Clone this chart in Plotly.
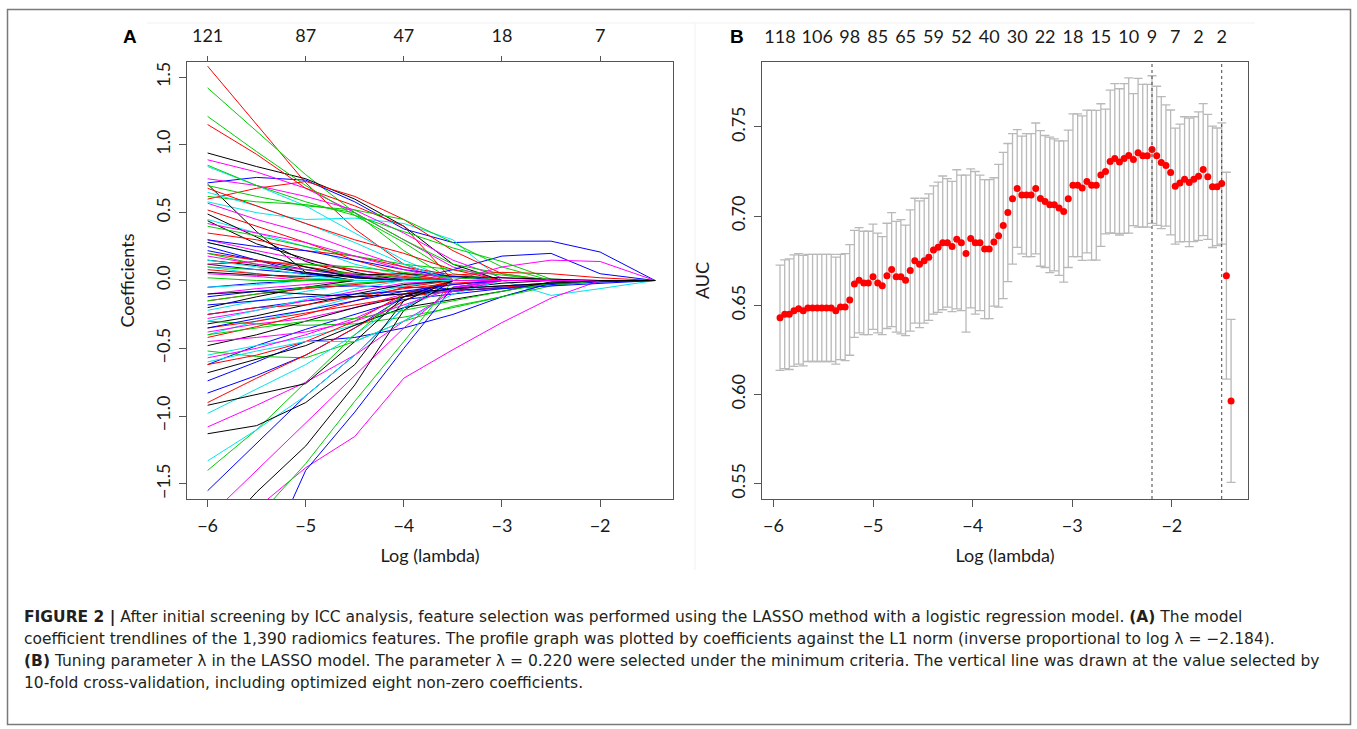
import plotly.graph_objects as go

W, H = 1357, 729

# ---------------- Panel A data: coefficient paths at log(lambda) knots ----------------
knots_loglam = [-6.0, -5.5, -5.0, -4.5, -4.0, -3.5, -3.0, -2.5, -2.0, -1.44]

top_ticks_A = [-6, -5, -4, -3, -2]
top_labels_A = ["121", "87", "47", "18", "7"]

black_paths = [
    [0.94, 0.84, 0.75, 0.60, 0.40, 0.12, 0, 0, 0, 0],
    [0.71, 0.36, 0.06, 0, 0, 0, 0, 0, 0, 0],
    [0.49, 0.32, 0.14, 0.03, 0, 0, 0, 0, 0, 0],
    [0.44, 0.27, 0.16, 0.06, 0, 0, 0, 0, 0, 0],
    [0.15, 0.11, 0.06, 0.02, 0, 0, 0, 0, 0, 0],
    [0.06, 0.04, 0.03, 0.04, 0.05, 0.03, 0.02, 0.01, 0, 0],
    [-0.20, -0.12, -0.05, 0, 0, 0, 0, 0, 0, 0],
    [-0.32, -0.26, -0.18, -0.10, -0.03, 0, 0, 0, 0, 0],
    [-0.48, -0.40, -0.30, -0.20, -0.12, -0.06, -0.02, 0, 0, 0],
    [-0.68, -0.58, -0.48, -0.33, -0.20, -0.14, -0.08, -0.01, 0, 0],
    [-0.92, -0.84, -0.76, -0.45, -0.12, 0, 0, 0, 0, 0],
    [-1.13, -1.07, -0.90, -0.62, -0.15, 0, 0, 0, 0, 0],
    [-1.95, -1.56, -1.22, -0.77, -0.22, 0, 0, 0, 0, 0],
    [0.28, 0.20, 0.10, 0.02, 0, 0, 0, 0, 0, 0],
    [-0.10, -0.08, -0.10, -0.12, -0.10, -0.06, -0.04, -0.02, 0, 0],
]
red_paths = [
    [1.58, 1.15, 0.72, 0.38, 0.12, 0, 0, 0, 0, 0],
    [1.15, 0.93, 0.68, 0.55, 0.40, 0, 0, 0, 0, 0],
    [0.60, 0.68, 0.73, 0.62, 0.45, 0.22, 0.05, 0, 0, 0],
    [0.52, 0.40, 0.28, 0.15, 0.05, 0, 0, 0, 0, 0],
    [0.35, 0.30, 0.22, 0.18, 0.10, 0.04, 0.06, 0.05, 0.02, 0],
    [0.20, 0.15, 0.10, 0.05, 0.02, 0, 0, 0, 0, 0],
    [0.08, 0.05, 0.01, 0, 0, 0, 0, 0, 0, 0],
    [-0.15, -0.10, -0.06, -0.03, 0, 0, 0, 0, 0, 0],
    [-0.35, -0.30, -0.24, -0.18, -0.12, -0.08, -0.05, -0.02, 0, 0],
    [-0.42, -0.34, -0.25, -0.15, -0.05, 0, 0, 0, 0, 0],
    [-0.90, -0.72, -0.55, -0.35, -0.15, 0, 0, 0, 0, 0],
    [-0.62, -0.55, -0.45, -0.30, -0.10, 0, 0, 0, 0, 0],
    [0.12, 0.14, 0.12, 0.08, 0.03, 0, 0, 0, 0, 0],
    [-0.25, -0.20, -0.18, -0.12, -0.06, -0.02, 0, 0, 0, 0],
    [0.68, 0.55, 0.42, 0.30, 0.20, 0.08, 0, 0, 0, 0],
]
green_paths = [
    [1.42, 1.10, 0.78, 0.50, 0.22, 0, 0, 0, 0, 0],
    [1.21, 0.95, 0.70, 0.48, 0.28, 0.05, 0, 0, 0, 0],
    [0.85, 0.70, 0.58, 0.48, 0.36, 0.24, 0.14, 0.01, 0, 0],
    [0.62, 0.58, 0.56, 0.50, 0.30, 0.12, 0.05, 0, 0, 0],
    [0.40, 0.33, 0.25, 0.18, 0.12, 0.08, 0.04, 0, 0, 0],
    [0.20, 0.12, 0.08, 0.05, 0.02, 0, 0, 0, 0, 0],
    [0.02, 0, 0, 0, 0, 0, 0, 0, 0, 0],
    [-0.15, -0.10, -0.05, -0.02, 0, 0, 0, 0, 0, 0],
    [-0.30, -0.32, -0.33, -0.32, -0.27, -0.20, -0.12, -0.02, 0, 0],
    [-0.52, -0.56, -0.57, -0.45, -0.30, -0.19, -0.12, -0.04, 0, 0],
    [-1.40, -1.10, -0.75, -0.40, -0.10, 0, 0, 0, 0, 0],
    [-2.30, -1.75, -1.35, -0.89, -0.45, 0, 0, 0, 0, 0],
    [0.70, 0.62, 0.55, 0.52, 0.45, 0.28, 0.10, 0, 0, 0],
    [0.10, 0.08, 0.12, 0.10, 0.06, 0.02, 0, 0, 0, 0],
    [-0.40, -0.35, -0.30, -0.28, -0.22, -0.15, -0.08, -0.02, 0, 0],
]
blue_paths = [
    [0.72, 0.76, 0.74, 0.58, 0.38, 0.28, 0.29, 0.29, 0.21, 0],
    [0.25, 0.15, 0.05, 0, 0, 0.08, 0.18, 0.20, 0.05, 0],
    [0.22, 0.15, 0.08, 0.03, 0, 0, 0, 0, 0, 0],
    [0.12, 0.08, 0.05, 0.03, 0.01, 0, 0, 0, 0, 0],
    [-0.05, -0.02, 0, 0, 0, 0, 0, 0, 0, 0],
    [-0.12, -0.08, -0.05, -0.04, -0.05, -0.06, -0.04, -0.02, -0.01, 0],
    [-0.25, -0.20, -0.15, -0.12, -0.10, -0.08, -0.05, -0.03, -0.01, 0],
    [-0.62, -0.48, -0.36, -0.25, -0.14, -0.10, -0.06, -0.02, 0, 0],
    [-0.74, -0.60, -0.45, -0.42, -0.35, -0.25, -0.12, -0.02, 0, 0],
    [-0.83, -0.70, -0.55, -0.35, -0.12, 0, 0, 0, 0, 0],
    [-1.55, -1.20, -0.85, -0.55, -0.20, 0, 0, 0, 0, 0],
    [-2.90, -2.20, -1.40, -0.97, -0.50, -0.05, 0, 0, 0, 0],
    [0.30, 0.25, 0.22, 0.15, 0.08, 0.03, 0, 0, 0, 0],
    [-0.18, -0.15, -0.12, -0.10, -0.08, -0.07, -0.06, -0.04, -0.02, 0],
    [-0.35, -0.28, -0.22, -0.15, -0.08, -0.03, 0, 0, 0, 0],
]
cyan_paths = [
    [0.58, 0.50, 0.45, 0.46, 0.42, 0.30, 0.0, -0.11, -0.06, 0],
    [0.84, 0.70, 0.55, 0.35, 0.15, 0, 0, 0, 0, 0],
    [0.45, 0.35, 0.25, 0.12, 0.04, 0, 0, 0, 0, 0],
    [0.28, 0.20, 0.10, 0.04, 0, 0, 0, 0, 0, 0],
    [0.10, 0.05, 0.02, 0, 0, 0, 0, 0, 0, 0],
    [-0.05, -0.03, 0, 0, 0, 0, 0, 0, 0, 0],
    [-0.22, -0.15, -0.08, -0.02, 0, 0, 0, 0, 0, 0],
    [-0.40, -0.30, -0.22, -0.12, -0.04, 0, 0, 0, 0, 0],
    [-0.55, -0.48, -0.42, -0.33, -0.20, -0.05, 0, 0, 0, 0],
    [-0.98, -0.80, -0.62, -0.40, -0.15, 0, 0, 0, 0, 0],
    [-1.33, -1.10, -0.85, -0.55, -0.20, 0, 0, 0, 0, 0],
    [-0.60, -0.52, -0.45, -0.45, -0.30, -0.10, 0, 0, 0, 0],
    [0.65, 0.55, 0.42, 0.28, 0.12, 0, 0, 0, 0, 0],
    [0.15, 0.10, 0.04, 0, 0, 0, 0, 0, 0, 0],
    [-0.30, -0.22, -0.14, -0.06, 0, 0, 0, 0, 0, 0],
]
magenta_paths = [
    [0.89, 0.80, 0.68, 0.50, 0.30, 0.10, 0, 0, 0, 0],
    [0.75, 0.70, 0.62, 0.52, 0.35, 0.15, 0.02, 0, 0, 0],
    [0.57, 0.45, 0.35, 0.22, 0.10, 0, 0, 0, 0, 0],
    [0.30, 0.22, 0.15, 0.08, 0.02, 0, 0, 0, 0, 0],
    [0.05, 0.03, 0, 0, 0, 0, 0.10, 0.15, 0.14, 0],
    [-0.10, -0.06, -0.03, 0, 0, 0, 0, 0, 0, 0],
    [-0.28, -0.22, -0.15, -0.08, -0.02, 0, 0, 0, 0, 0],
    [-0.38, -0.32, -0.28, -0.20, -0.10, -0.03, 0, 0, 0, 0],
    [-0.57, -0.50, -0.40, -0.28, -0.12, 0, 0, 0, 0, 0],
    [-1.08, -0.92, -0.75, -0.55, -0.30, -0.08, 0, 0, 0, 0],
    [-2.00, -1.68, -1.38, -1.15, -0.72, -0.51, -0.31, -0.13, 0, 0],
    [-1.75, -1.40, -1.05, -0.70, -0.35, -0.05, 0, 0, 0, 0],
    [0.18, 0.12, 0.08, 0.04, 0, 0, 0, 0, 0, 0],
    [-0.45, -0.42, -0.38, -0.30, -0.18, -0.06, 0, 0, 0, 0],
    [0.42, 0.35, 0.28, 0.18, 0.08, 0, 0, 0, 0, 0],
]

# ---------------- Panel B data: cross-validated AUC ----------------
cv_loglam = [
    -5.935, -5.888, -5.842, -5.795, -5.748, -5.702, -5.655, -5.608, -5.561, -5.515,
    -5.468, -5.421, -5.375, -5.328, -5.281, -5.235, -5.188, -5.141, -5.094, -5.048,
    -5.001, -4.954, -4.908, -4.861, -4.814, -4.768, -4.721, -4.674, -4.627, -4.581,
    -4.534, -4.487, -4.441, -4.394, -4.347, -4.301, -4.254, -4.207, -4.160, -4.114,
    -4.067, -4.020, -3.974, -3.927, -3.880, -3.834, -3.787, -3.740, -3.693, -3.647,
    -3.600, -3.553, -3.507, -3.460, -3.413, -3.367, -3.320, -3.273, -3.226, -3.180,
    -3.133, -3.086, -3.040, -2.993, -2.946, -2.900, -2.853, -2.806, -2.759, -2.713,
    -2.666, -2.619, -2.573, -2.526, -2.479, -2.433, -2.386, -2.339, -2.292, -2.246,
    -2.199, -2.152, -2.106, -2.059, -2.012, -1.966, -1.919, -1.872, -1.825, -1.779,
    -1.732, -1.685, -1.639, -1.592, -1.545, -1.499, -1.452, -1.405,
]
auc_mean = [
    0.643, 0.645, 0.645, 0.647, 0.648, 0.647, 0.6485, 0.6485, 0.6485, 0.6485,
    0.6485, 0.6485, 0.647, 0.649, 0.649, 0.653, 0.662, 0.664, 0.6625, 0.6625,
    0.666, 0.6625, 0.661, 0.6665, 0.670, 0.666, 0.666, 0.664, 0.6695, 0.675,
    0.673, 0.675, 0.677, 0.681, 0.6825, 0.685, 0.685, 0.683, 0.687, 0.685,
    0.679, 0.6875, 0.685, 0.685, 0.6815, 0.6815, 0.6855, 0.689, 0.6947, 0.702,
    0.7097, 0.7155, 0.7118, 0.7118, 0.7118, 0.7155, 0.7099, 0.7082, 0.7063, 0.7063,
    0.7045, 0.7026, 0.7097, 0.7173, 0.7173, 0.7157, 0.7194, 0.7173, 0.7173, 0.723,
    0.725, 0.7306, 0.7323, 0.7304, 0.7323, 0.734, 0.7317, 0.7355, 0.7338, 0.7338,
    0.7373, 0.7338, 0.730, 0.7284, 0.7245, 0.7168, 0.7186, 0.7207, 0.7189, 0.7207,
    0.7224, 0.7261, 0.722, 0.7164, 0.7164, 0.7183, 0.6666, 0.5964,
]
auc_sd = [
    0.0295, 0.0305, 0.031, 0.0313, 0.031, 0.031, 0.030, 0.030, 0.030, 0.030,
    0.030, 0.030, 0.030, 0.0295, 0.030, 0.031, 0.030, 0.0295, 0.029, 0.029,
    0.0295, 0.028, 0.0275, 0.0295, 0.032, 0.031, 0.032, 0.031, 0.034, 0.035,
    0.0355, 0.035, 0.0355, 0.036, 0.0365, 0.0375, 0.036, 0.0365, 0.039, 0.038,
    0.044, 0.039, 0.040, 0.038, 0.039, 0.039, 0.036, 0.040, 0.041, 0.0387,
    0.0366, 0.033, 0.033, 0.0345, 0.0345, 0.0367, 0.038, 0.037, 0.038, 0.037,
    0.0377, 0.0396, 0.0385, 0.040, 0.040, 0.0405, 0.040, 0.042, 0.042, 0.040,
    0.035, 0.040, 0.042, 0.041, 0.042, 0.0435, 0.037, 0.0417, 0.040, 0.040,
    0.0414, 0.039, 0.037, 0.034, 0.035, 0.0325, 0.033, 0.035, 0.036, 0.035,
    0.036, 0.037, 0.035, 0.034, 0.033, 0.034, 0.058, 0.0457,
]
nz_index = [0, 8, 15, 21, 27, 33, 39, 45, 51, 57, 63, 69, 75, 80, 85, 90, 95]
nz_labels = ["118", "106", "98", "85", "65", "59", "52", "40", "30", "22",
             "18", "15", "10", "9", "7", "2", "2"]
idx_min, idx_1se = 80, 95

caption_lines = [
    "<b>FIGURE 2 |</b> After initial screening by ICC analysis, feature selection was performed using the LASSO method with a logistic regression model. <b>(A)</b> The model",
    "coefficient trendlines of the 1,390 radiomics features. The profile graph was plotted by coefficients against the L1 norm (inverse proportional to log λ = −2.184).",
    "<b>(B)</b> Tuning parameter λ in the LASSO model. The parameter λ = 0.220 were selected under the minimum criteria. The vertical line was drawn at the value selected by",
    "10-fold cross-validation, including optimized eight non-zero coefficients.",
]

# ---------------- figure ----------------
def px_x(p):
    return p / W

def px_y(p):
    return 1 - p / H

fig = go.Figure()

palette = [("#FF0000", red_paths), ("#00CD00", green_paths), ("#0000FF", blue_paths),
           ("#00E5EE", cyan_paths), ("#FF00FF", magenta_paths), ("#000000", black_paths)]
n_each = len(black_paths)
for i in range(n_each):
    for col, paths in palette:
        fig.add_trace(go.Scatter(
            x=knots_loglam, y=paths[i], mode="lines",
            line=dict(color=col, width=1), xaxis="x", yaxis="y",
            showlegend=False, hoverinfo="skip"))

# dummy traces so the top axes render
fig.add_trace(go.Scatter(x=[top_ticks_A[0]], y=[None], xaxis="x3", yaxis="y",
                         showlegend=False, hoverinfo="skip"))
fig.add_trace(go.Scatter(x=[cv_loglam[0]], y=[None], xaxis="x4", yaxis="y2",
                         showlegend=False, hoverinfo="skip"))

fig.add_trace(go.Scatter(
    x=cv_loglam, y=auc_mean, mode="markers",
    marker=dict(color="#FF0000", size=7),
    error_y=dict(type="data", array=auc_sd, visible=True,
                 color="#b9b9b9", thickness=1.3, width=4.5),
    xaxis="x2", yaxis="y2", showlegend=False, hoverinfo="skip"))

axis_font = dict(family="Lato, Open Sans, sans-serif", size=18, color="#1a1a1a")
frame_col = "#555555"
yd = [px_y(499), px_y(62)]
common_axis = dict(showline=True, linecolor=frame_col, linewidth=1.3, mirror=True,
                   ticks="outside", ticklen=7, tickcolor=frame_col, tickwidth=1.2,
                   showgrid=False, zeroline=False, tickfont=axis_font)

fig.update_layout(
    width=W, height=H, margin=dict(l=0, r=0, t=0, b=0),
    paper_bgcolor="white", plot_bgcolor="white",
    xaxis=dict(domain=[px_x(187), px_x(673)], range=[-6.21, -1.257],
               tickvals=[-6, -5, -4, -3, -2], ticktext=["−6", "−5", "−4", "−3", "−2"],
               anchor="y", ticklabelstandoff=3,
               title=dict(text="Log (lambda)", font=axis_font, standoff=14),
               **common_axis),
    yaxis=dict(domain=yd, range=[-1.611, 1.611], anchor="x",
               tickvals=[-1.5, -1.0, -0.5, 0.0, 0.5, 1.0, 1.5], tickformat=".1f",
               tickangle=-90, ticklabelstandoff=2,
               title=dict(text="Coefficients", font=axis_font, standoff=12),
               **common_axis),
    xaxis3=dict(overlaying="x", side="top", anchor="y", range=[-6.21, -1.257],
                tickvals=top_ticks_A, ticktext=top_labels_A, ticks="outside",
                ticklen=5, tickcolor=frame_col, tickwidth=1.2, showline=False,
                showgrid=False, zeroline=False, tickfont=axis_font,
                ticklabelstandoff=7),
    xaxis2=dict(domain=[px_x(762), px_x(1248)], range=[-6.116, -1.235],
                tickvals=[-6, -5, -4, -3, -2], ticktext=["−6", "−5", "−4", "−3", "−2"],
                anchor="y2", ticklabelstandoff=3,
                title=dict(text="Log (lambda)", font=axis_font, standoff=14),
                **common_axis),
    yaxis2=dict(domain=yd, range=[0.5414, 0.7864], anchor="x2",
                tickvals=[0.55, 0.60, 0.65, 0.70, 0.75], tickformat=".2f",
                tickangle=-90, ticklabelstandoff=2,
                title=dict(text="AUC", font=axis_font, standoff=12),
                **common_axis),
    xaxis4=dict(overlaying="x2", side="top", anchor="y2", range=[-6.116, -1.235],
                tickvals=[cv_loglam[i] for i in nz_index], ticktext=nz_labels,
                ticks="", showline=False, showgrid=False, zeroline=False,
                tickfont=axis_font, ticklabelstandoff=14),
)

# dotted reference lines (lambda.min, lambda.1se)
for idx in (idx_min, idx_1se):
    fig.add_shape(type="line", xref="x2", yref="y2 domain",
                  x0=cv_loglam[idx], x1=cv_loglam[idx], y0=0, y1=1,
                  line=dict(color="#444444", width=1, dash="dot"))

# outer frame and faint image edges
fig.add_shape(type="rect", xref="paper", yref="paper",
              x0=px_x(7.5), x1=px_x(1350.5), y0=px_y(724.5), y1=px_y(9.5),
              line=dict(color="#7a7a7a", width=1.5))
fig.add_shape(type="line", xref="paper", yref="paper",
              x0=px_x(147), x1=px_x(1255), y0=px_y(23), y1=px_y(23),
              line=dict(color="#f1f1f1", width=1))
fig.add_shape(type="line", xref="paper", yref="paper",
              x0=px_x(695), x1=px_x(695), y0=px_y(23), y1=px_y(570),
              line=dict(color="#f1f1f1", width=1))

# panel letters
letter_font = dict(family="Liberation Sans, Arial, sans-serif", size=19, color="#000000")
fig.add_annotation(text="<b>A</b>", xref="paper", yref="paper", x=px_x(130), y=px_y(37),
                   showarrow=False, font=letter_font, xanchor="center", yanchor="middle")
fig.add_annotation(text="<b>B</b>", xref="paper", yref="paper", x=px_x(737), y=px_y(37),
                   showarrow=False, font=letter_font, xanchor="center", yanchor="middle")

# caption
cap_font = dict(family="DejaVu Sans, Liberation Sans, sans-serif", size=15.5, color="#231f20")
for k, line in enumerate(caption_lines):
    fig.add_annotation(text=line, xref="paper", yref="paper",
                       x=px_x(22), y=px_y(617 + 22 * k), xanchor="left", yanchor="middle",
                       showarrow=False, font=cap_font, align="left")

fig.write_html("out.html")
